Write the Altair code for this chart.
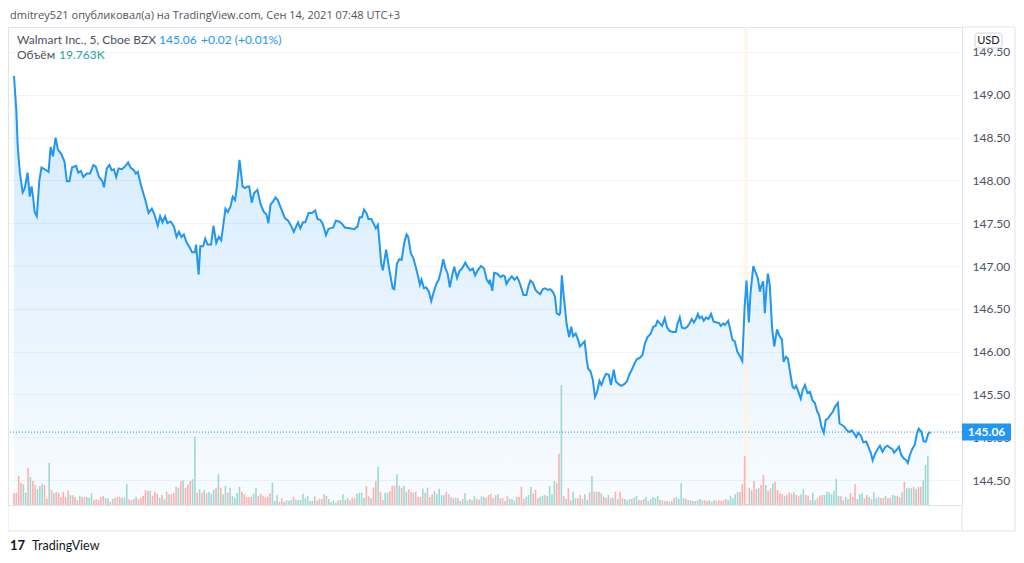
import json
import altair as alt
import pandas as pd

# ---------------- text ----------------
TITLE = "dmitrey521 опубликовал(а) на TradingView.com, Сен 14, 2021 07:48 UTC+3"
SYMBOL = "Walmart Inc., 5, Cboe BZX"
LAST_TXT = "145.06"
CHANGE_TXT = "+0.02 (+0.01%)"
VOL_LABEL = "Объём"
VOL_LAST = "19.763K"
CURRENCY = "USD"
BRAND = "TradingView"

# ---------------- price (bar index of 5-min session bars, close) ----------------
day07 = [(0, 149.22), (1.0, 148.82), (1.6, 148.39), (2.5, 148.09), (3.7, 147.86), (4.6, 147.91),
         (5.8, 148.09), (6.7, 147.81), (7.5, 147.93), (8.1, 147.81), (8.8, 147.63), (9.7, 147.58),
         (10.8, 148.00), (11.7, 148.15), (13.1, 148.13), (14.7, 148.10), (15.6, 148.39), (16.6, 148.28),
         (17.7, 148.50), (18.7, 148.36), (20.1, 148.31), (21.5, 148.22), (22.5, 147.99), (23.6, 147.99),
         (24.7, 148.15), (26.4, 148.17), (27.4, 148.09), (28.5, 148.11), (29.5, 148.04), (31.0, 148.08),
         (32.4, 148.08), (33.8, 148.18), (34.8, 148.16), (36.2, 148.04), (37.6, 147.99), (38.3, 147.92),
         (39.5, 148.14), (40.6, 148.18), (41.6, 148.12), (42.5, 148.13), (43.5, 148.04), (44.5, 148.14),
         (46.0, 148.13), (47.5, 148.17), (48.6, 148.21), (49.6, 148.15), (51.0, 148.12), (51.8, 148.08),
         (52.7, 148.10), (54.0, 147.95), (55.9, 147.77), (57.3, 147.62), (58.7, 147.67), (59.8, 147.60),
         (61.2, 147.47), (62.2, 147.58), (63.2, 147.51), (64.3, 147.58), (65.3, 147.50), (66.7, 147.52),
         (68.1, 147.46), (69.2, 147.34), (70.2, 147.40), (71.3, 147.34), (72.3, 147.37), (73.4, 147.28),
         (74.9, 147.21), (75.8, 147.16), (77.0, 147.16), (77.5, 147.25)]
day08 = [(78.6, 146.90), (79.3, 147.23), (80.5, 147.23), (81.4, 147.32), (82.4, 147.25), (83.9, 147.25),
         (84.9, 147.47), (86.1, 147.27), (87.2, 147.34), (88.2, 147.30), (88.9, 147.44), (90.0, 147.67),
         (91.0, 147.63), (92.1, 147.69), (93.1, 147.81), (94.1, 147.77), (94.9, 147.93), (96.0, 148.24),
         (97.3, 147.93), (98.3, 147.91), (99.4, 147.93), (100.1, 147.93), (101.2, 147.74), (102.2, 147.85),
         (103.6, 147.89), (105.0, 147.72), (106.4, 147.63), (107.5, 147.60), (108.3, 147.50), (109.2, 147.72),
         (110.2, 147.75), (111.3, 147.80), (112.3, 147.77), (113.4, 147.69), (115.3, 147.56), (116.7, 147.53),
         (118.1, 147.46), (119.1, 147.40), (120.1, 147.46), (120.9, 147.51), (121.9, 147.44), (123.0, 147.51),
         (124.0, 147.51), (125.4, 147.62), (126.8, 147.62), (128.2, 147.65), (129.2, 147.55), (130.3, 147.54),
         (131.3, 147.50), (132.0, 147.44), (132.8, 147.36), (133.8, 147.43), (134.5, 147.44), (135.9, 147.45),
         (137.0, 147.53), (138.3, 147.52), (139.4, 147.50), (140.8, 147.45), (142.9, 147.44), (144.8, 147.43),
         (146.2, 147.46), (147.1, 147.57), (148.1, 147.57), (149.0, 147.66), (150.0, 147.62), (150.9, 147.55),
         (152.1, 147.55), (153.2, 147.49), (154.0, 147.44), (154.9, 147.48), (155.6, 147.27)]
day09 = [(156.3, 147.03), (157.0, 146.95), (158.4, 147.19), (159.8, 146.95), (161.2, 146.74), (161.9, 146.73),
         (163.0, 147.03), (164.0, 147.08), (165.0, 147.07), (166.1, 147.27), (167.1, 147.37), (167.8, 147.34),
         (168.9, 147.15), (170.0, 147.09), (171.0, 146.99), (172.0, 146.88), (172.8, 146.78), (173.5, 146.84),
         (174.5, 146.74), (175.5, 146.75), (176.6, 146.70), (177.6, 146.59), (178.7, 146.70), (179.9, 146.80),
         (180.8, 146.84), (181.8, 146.95), (182.7, 147.08), (183.7, 146.97), (184.6, 146.91), (185.5, 146.75),
         (186.5, 146.89), (187.4, 146.99), (188.6, 146.86), (189.6, 146.94), (190.7, 146.97), (192.1, 147.04),
         (193.1, 146.99), (194.2, 146.95), (195.3, 146.97), (196.3, 146.89), (197.4, 146.95), (198.8, 147.00),
         (200.1, 146.97), (201.2, 146.84), (202.2, 146.80), (202.6, 146.84), (203.6, 146.71), (204.4, 146.92),
         (205.7, 146.91), (207.1, 146.87), (208.0, 146.89), (208.9, 146.88), (209.6, 146.79), (210.7, 146.84),
         (211.9, 146.88), (213.0, 146.84), (214.1, 146.87), (214.9, 146.83), (216.0, 146.74), (216.9, 146.66),
         (218.1, 146.66), (219.0, 146.77), (219.8, 146.83), (220.9, 146.80), (222.0, 146.72), (223.0, 146.69),
         (224.0, 146.67), (225.1, 146.73), (226.1, 146.74), (227.2, 146.72), (228.2, 146.73), (229.3, 146.70),
         (230.3, 146.64), (231.0, 146.45), (232.1, 146.43), (232.5, 146.45), (233.2, 146.89)]
day10 = [(233.9, 146.68), (234.6, 146.49), (235.3, 146.31), (236.3, 146.17), (237.2, 146.29), (238.0, 146.18),
         (239.1, 146.21), (240.1, 146.14), (240.9, 146.06), (241.9, 146.09), (242.9, 146.12), (243.8, 145.90),
         (244.4, 145.80), (245.4, 145.77), (246.4, 145.67), (247.3, 145.47), (248.2, 145.53), (249.2, 145.66),
         (250.1, 145.61), (251.1, 145.69), (252.0, 145.74), (253.2, 145.73), (254.1, 145.61), (255.3, 145.79),
         (256.2, 145.65), (257.4, 145.62), (258.5, 145.60), (259.8, 145.62), (260.9, 145.65), (261.9, 145.73),
         (263.0, 145.79), (264.1, 145.86), (265.1, 145.91), (266.5, 145.93), (267.5, 145.96), (268.6, 146.10),
         (269.7, 146.17), (271.0, 146.21), (272.1, 146.29), (273.1, 146.30), (273.9, 146.36), (274.9, 146.33),
         (275.9, 146.30), (277.0, 146.39), (278.0, 146.28), (279.1, 146.24), (280.5, 146.23), (281.7, 146.23),
         (282.4, 146.32), (283.4, 146.40), (284.3, 146.28), (285.5, 146.27), (286.6, 146.29), (287.6, 146.33),
         (288.5, 146.38), (289.4, 146.34), (290.4, 146.39), (291.1, 146.44), (291.8, 146.39), (292.8, 146.41),
         (293.6, 146.36), (294.6, 146.40), (295.6, 146.38), (296.7, 146.44), (297.8, 146.35), (299.2, 146.34),
         (300.2, 146.33), (300.9, 146.30), (301.9, 146.33), (302.6, 146.31), (304.0, 146.36), (304.8, 146.27),
         (305.8, 146.14), (306.8, 146.12), (307.9, 146.00), (308.9, 145.95), (310.0, 145.89), (310.4, 146.14),
         (311.0, 146.52)]
day13 = [(311.8, 146.83), (312.4, 146.54), (312.8, 146.34), (313.5, 146.68), (314.7, 147.00), (315.6, 146.93),
         (316.6, 146.86), (317.5, 146.70), (318.0, 146.76), (318.9, 146.82), (319.6, 146.45), (320.3, 146.74),
         (320.9, 146.91), (321.7, 146.78), (322.7, 146.27), (323.6, 146.06), (324.8, 146.26), (325.7, 146.19),
         (326.9, 146.14), (327.6, 145.88), (328.6, 145.94), (329.4, 145.92), (330.4, 145.75), (331.4, 145.59),
         (332.1, 145.57), (332.9, 145.60), (333.9, 145.53), (334.9, 145.45), (335.7, 145.55), (336.7, 145.61),
         (337.7, 145.52), (338.8, 145.53), (339.9, 145.43), (340.9, 145.40), (341.9, 145.30), (342.7, 145.26),
         (343.7, 145.12), (344.7, 145.05), (345.5, 145.20), (346.5, 145.22), (347.5, 145.26), (348.6, 145.30),
         (349.6, 145.36), (350.7, 145.40), (351.4, 145.16), (352.6, 145.14), (353.5, 145.12), (354.5, 145.08),
         (355.6, 145.06), (356.6, 145.08), (357.7, 145.04), (358.5, 145.00), (359.4, 145.05), (360.6, 145.01),
         (361.5, 144.94), (362.7, 144.95), (363.8, 144.88), (364.8, 144.81), (365.5, 144.73), (366.6, 144.81),
         (367.6, 144.86), (368.6, 144.90), (369.7, 144.83), (370.7, 144.88), (371.8, 144.90), (372.8, 144.88),
         (373.9, 144.86), (374.6, 144.82), (375.6, 144.85), (376.7, 144.89), (377.7, 144.79), (378.8, 144.75),
         (379.8, 144.73), (380.5, 144.70), (381.3, 144.79), (382.3, 144.86), (383.4, 144.91), (384.4, 145.05),
         (385.1, 145.10), (386.3, 145.06), (387.2, 144.95), (388.2, 144.95), (389.1, 145.04), (390.1, 145.06)]

# ---------------- volume (thousands, one per 5-min bar), u = up bar, d = down bar ----------------
vol_d07 = [4.7, 4.9, 11.6, 8.9, 8.3, 4.9, 14.9, 11.2, 9.6, 8.0, 6.3, 7.6, 8.5, 8.0, 2.4, 16.9, 6.0, 4.7, 5.3, 4.9,
           3.2, 5.3, 3.1, 5.7, 3.9, 3.9, 3.2, 1.9, 3.6, 3.2, 3.2, 3.2, 2.9, 4.7, 2.0, 2.4, 2.0, 3.2, 3.7, 2.7,
           2.7, 1.3, 2.4, 2.7, 3.1, 3.3, 2.9, 2.9, 8.5, 2.3, 1.9, 2.4, 3.3, 2.4, 2.9, 3.7, 6.0, 5.6, 5.7, 3.7,
           5.3, 4.5, 2.9, 4.1, 2.3, 5.3, 4.3, 4.3, 4.8, 7.3, 6.9, 9.6, 9.9, 6.9, 8.1, 9.6, 10.3, 27.3]
dir_d07 = "dddduududd" "uuuddududd" "ddddudddud" "duuudddddu" "ududdduuud" "ududddddud" "ddudududdd" "ududdduu"
vol_d08 = [4.9, 6.4, 4.9, 6.0, 4.7, 5.3, 4.5, 6.1, 6.9, 12.3, 6.9, 4.3, 7.7, 4.9, 6.9, 3.5, 2.9, 4.9, 7.3, 5.3,
           4.3, 3.1, 3.1, 3.3, 4.5, 6.9, 3.6, 4.5, 3.7, 2.9, 3.3, 4.7, 8.9, 1.6, 3.9, 1.3, 2.7, 1.3, 1.9, 1.6,
           2.0, 3.3, 2.1, 2.0, 2.0, 4.5, 2.7, 3.7, 1.7, 1.7, 3.5, 1.7, 2.4, 2.4, 4.3, 3.7, 2.4, 1.1, 1.9, 0.9,
           1.9, 2.0, 4.3, 2.0, 2.7, 1.9, 2.9, 2.7, 4.5, 4.9, 4.9, 2.9, 7.6, 3.5, 2.7, 6.9, 9.6, 15.3]
dir_d08 = "dududuuudu" "duuduuuuud" "dddduudddd" "dduuuddduu" "uduuuuuuuu" "dudduduuuu" "duududdduu" "uudduddu"
vol_d09 = [5.3, 2.0, 4.9, 4.9, 5.6, 7.7, 7.7, 12.3, 7.7, 6.9, 7.7, 5.3, 6.3, 5.3, 4.9, 5.3, 3.2, 3.2, 6.5, 4.9,
           6.9, 3.2, 4.3, 5.6, 4.3, 6.5, 3.9, 3.9, 5.3, 4.3, 3.2, 2.7, 2.9, 2.7, 1.7, 2.4, 4.7, 1.9, 2.4, 1.9,
           3.5, 2.4, 2.1, 3.5, 3.3, 2.9, 4.0, 4.5, 2.7, 3.9, 4.3, 2.7, 2.7, 1.6, 3.7, 2.4, 2.4, 1.7, 3.3, 3.3,
           7.3, 2.4, 3.2, 4.0, 7.2, 4.7, 6.1, 2.7, 3.3, 3.7, 4.0, 3.7, 7.6, 4.3, 9.6, 8.9, 20.5, 48.0]
dir_d09 = "dduuddduud" "uuddudddud" "udduuuuudd" "udududuudu" "udduudddud" "udduduuuud" "dduuuddduu" "duuuuddu"
vol_d10 = [3.5, 2.4, 6.7, 1.9, 5.3, 2.7, 2.7, 4.0, 2.4, 4.3, 2.0, 5.1, 11.6, 5.3, 5.3, 5.3, 4.7, 3.3, 2.8, 4.0,
           2.7, 2.9, 5.3, 2.4, 5.3, 2.7, 2.4, 1.9, 2.4, 2.4, 2.9, 3.7, 2.1, 1.9, 2.4, 3.2, 1.6, 2.4, 3.2, 2.7,
           3.7, 2.1, 1.9, 1.6, 1.6, 1.3, 1.6, 2.8, 3.2, 2.4, 8.7, 2.7, 2.4, 1.9, 1.9, 1.6, 1.6, 1.9, 2.4, 1.9,
           1.9, 1.6, 2.0, 1.3, 1.9, 1.6, 1.9, 1.6, 1.9, 2.4, 1.9, 3.7, 2.7, 4.3, 5.3, 5.1, 8.3, 19.5]
dir_d10 = "dudduudddu" "ududududdu" "dududduuud" "uudduuduuu" "uddudduduu" "uududuuduu" "ddududdddd" "uuuuuddd"
vol_d13 = [0.5, 6.9, 5.9, 9.6, 6.4, 6.7, 8.0, 12.0, 8.0, 5.6, 6.7, 8.5, 9.3, 6.0, 4.7, 4.3, 3.5, 4.0, 5.1, 4.5,
           5.1, 4.0, 3.5, 4.3, 6.4, 4.0, 3.7, 1.9, 4.9, 1.9, 2.7, 3.7, 4.0, 4.0, 5.3, 5.1, 4.3, 5.6, 10.4, 3.7,
           3.5, 1.9, 3.2, 2.4, 4.9, 3.2, 8.3, 2.4, 4.3, 4.7, 2.7, 4.0, 3.2, 2.4, 5.1, 2.7, 3.3, 2.8, 2.7, 3.7,
           2.7, 2.9, 4.0, 3.7, 3.7, 3.2, 5.1, 9.3, 6.7, 6.9, 6.7, 7.2, 6.4, 7.2, 7.3, 9.9, 16.0, 19.7]
dir_d13 = "ududduddud" "dudddduddd" "udduudduuu" "ddduuuuuuu" "dduuddduuu" "dduduuuddu" "dduudduduu" "ududduuu"

# ---------------- axes ----------------
TICK_BARS = [0, 42, 78, 120, 156, 198, 234, 276, 312, 366]
TICK_LABELS = ["7", "20:00", "8", "20:00", "9", "20:00", "10", "20:00", "13", "21:00"]
PRICE_TICKS = [144.5, 145.0, 145.5, 146.0, 146.5, 147.0, 147.5, 148.0, 148.5, 149.0, 149.5]
LAST_PRICE = 145.06
SESSION_MARK = (310.9, 312.2)

# ---------------- layout / style ----------------
W, H = 954, 478
X_DOMAIN = [-0.42, 401.4]
Y_DOMAIN = [144.208, 149.792]
VOL_DOMAIN = [0, 191.2]
BLUE = "#2196f3"
TEAL = "#9fd8d2"
PINK = "#f8b2b0"
GRID = "#f0f3fa"
FRAME = "#e0e3eb"
TXT = "#4c525e"
FONT = "Lato"

price_df = pd.DataFrame(day07 + day08 + day09 + day10 + day13, columns=["bar", "close"])
vols = vol_d07 + vol_d08 + vol_d09 + vol_d10 + vol_d13
dirs = list(dir_d07 + dir_d08 + dir_d09 + dir_d10 + dir_d13)
vol_df = pd.DataFrame({"bar": list(range(len(vols))), "vol": vols, "dir": dirs})
last_df = pd.DataFrame({"close": [LAST_PRICE], "label": [LAST_TXT]})
one = pd.DataFrame({"k": [0]})

x_scale = alt.Scale(domain=X_DOMAIN, nice=False, zero=False)
y_scale = alt.Scale(domain=Y_DOMAIN, nice=False, zero=False)

label_expr = f"{json.dumps(TICK_LABELS)}[indexof({json.dumps(TICK_BARS)}, datum.value)]"

x_axis = alt.Axis(values=TICK_BARS, labelExpr=label_expr, grid=True, gridColor=GRID, ticks=False,
                  domain=False, labelPadding=5, labelFontSize=12, labelColor=TXT, labelFont=FONT,
                  labelFlush=False, labelOverlap=False, title=None)
y_axis = alt.Axis(values=PRICE_TICKS, format=".2f", orient="right", grid=True, gridColor=GRID,
                  ticks=False, tickSize=0, domain=False, labelPadding=10, labelFontSize=12,
                  labelColor=TXT, labelFont=FONT, title=None)

grad = alt.Gradient(gradient="linear", x1=1, x2=1, y1=1, y2=0,
                    stops=[alt.GradientStop(color="rgba(33,150,243,0.03)", offset=0),
                           alt.GradientStop(color="rgba(33,150,243,0.20)", offset=1)])

area = alt.Chart(price_df).mark_area(color=grad, line=False).encode(
    x=alt.X("bar:Q", scale=x_scale, axis=x_axis),
    y=alt.Y("close:Q", scale=y_scale, axis=y_axis),
    y2=alt.datum(Y_DOMAIN[0]),
)

band = alt.Chart(one).mark_rect(color="#fef4e4", opacity=0.9).encode(
    x=alt.datum(SESSION_MARK[0], scale=x_scale),
    x2=alt.datum(SESSION_MARK[1]),
    y=alt.value(0), y2=alt.value(H),
)

volume = alt.Chart(vol_df).mark_bar(size=1.6).encode(
    x=alt.X("bar:Q", scale=x_scale, axis=None),
    y=alt.Y("vol:Q", scale=alt.Scale(domain=VOL_DOMAIN), axis=None),
    color=alt.Color("dir:N", scale=alt.Scale(domain=["u", "d"], range=[TEAL, PINK]), legend=None),
)

line = alt.Chart(price_df).mark_line(color=BLUE, strokeWidth=2).encode(
    x=alt.X("bar:Q", scale=x_scale, axis=None),
    y=alt.Y("close:Q", scale=y_scale, axis=None),
)

last_rule = alt.Chart(last_df).mark_rule(color=BLUE, strokeDash=[1, 2], strokeWidth=1).encode(
    y=alt.Y("close:Q", scale=y_scale, axis=None),
)

last_box = alt.Chart(last_df).mark_rule(color=BLUE, strokeWidth=17, strokeCap="butt").encode(
    x=alt.value(W), x2=alt.value(W + 49),
    y=alt.Y("close:Q", scale=y_scale, axis=None),
)
last_lbl = alt.Chart(last_df).mark_text(color="white", fontSize=12, font=FONT, fontWeight="bold",
                                        align="center", baseline="middle").encode(
    x=alt.value(W + 24.5),
    y=alt.Y("close:Q", scale=y_scale, axis=None),
    text="label:N",
)


def txt(s, x, y, color=TXT, size=12, weight="normal", align="left", font=FONT):
    return alt.Chart(one).mark_text(text=s, color=color, fontSize=size, font=font, fontWeight=weight,
                                    align=align, baseline="middle").encode(x=alt.value(x), y=alt.value(y))


def rule(x, y, x2=None, y2=None):
    enc = {"x": alt.value(x), "y": alt.value(y)}
    if x2 is not None:
        enc["x2"] = alt.value(x2)
    if y2 is not None:
        enc["y2"] = alt.value(y2)
    return alt.Chart(one).mark_rule(color=FRAME, strokeWidth=1).encode(**enc)


usd_box = alt.Chart(one).mark_rect(fill="white", stroke="#d1d4dc", strokeWidth=1, cornerRadius=3).encode(
    x=alt.value(W + 13), x2=alt.value(W + 40), y=alt.value(6), y2=alt.value(21))

layers = [
    area, band, volume, line, last_rule, last_box, last_lbl,
    rule(W, H, y2=H + 26), rule(0, H, y2=H + 26), rule(0, H + 26, x2=W + 53),
    rule(W + 53, 0, y2=H + 26), rule(W, 0, x2=W + 53),
    usd_box,
    txt(CURRENCY, W + 26.5, 13.5, color="#131722", size=11, align="center"),
    txt(TITLE, 2, -11, color="#50535e", size=11, font="Open Sans"),
    txt(SYMBOL, 9, 12.5),
    txt(LAST_TXT, 151, 12.5, color=BLUE),
    txt(CHANGE_TXT, 193, 12.5, color=BLUE),
    txt(VOL_LABEL, 9, 28),
    txt(VOL_LAST, 51, 28, color="#26a69a"),
    txt("17", 2, 519, color="#131722", size=13, weight="bold"),
    txt(BRAND, 24, 519, color="#131722", size=12.5),
]

chart = alt.layer(*layers).resolve_scale(y="independent").properties(
    width=W, height=H,
    autosize=alt.AutoSizeParams(type="none"),
    padding={"left": 0, "top": 19, "right": 54, "bottom": 50},
).configure_view(stroke=FRAME, strokeWidth=1)

chart.save("out.html", embed_options={"renderer": "svg", "actions": False})
